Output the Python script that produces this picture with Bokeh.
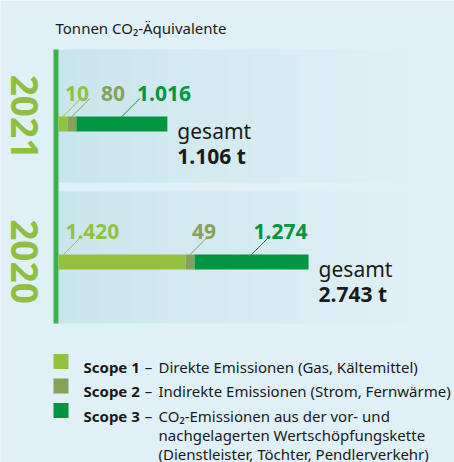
import numpy as np
from bokeh.plotting import figure
from bokeh.models import Range1d, ColumnDataSource
from bokeh.core.properties import value
from bokeh.embed import file_html
from bokeh.resources import INLINE

# ---------------- data ----------------
years = ["2021", "2020"]
scope1 = [10, 1420]
scope2 = [80, 49]
scope3 = [1016, 1274]
scope_names = ["Scope 1", "Scope 2", "Scope 3"]
scope_colors = ["#93c13f", "#87a05b", "#009640"]
legend_lines = [
    ["Direkte Emissionen (Gas, Kältemittel)"],
    ["Indirekte Emissionen (Strom, Fernwärme)"],
    ["CO₂-Emissionen aus der vor- und",
     "nachgelagerten Wertschöpfungskette",
     "(Dienstleister, Töchter, Pendlerverkehr)"],
]
title_text = "Tonnen CO₂-Äquivalente"
total_word = "gesamt"
unit = "t"

# ---------------- layout ----------------
W, H = 454, 462
BG = "#dff0f6"
FONT = value("Noto Sans")
X0 = 58            # pixel where value 0 sits
K = 0.0895         # pixels per tonne
MIN_SHOWN = 100    # smallest drawn segment (t) so tiny values stay visible
bar_centers = [123.5, 261.5]
bands = [(49, 182), (191, 323)]
year_centers = [116.5, 261]


def px2x(px):
    return (px - X0) / K


def fmt(v):
    return f"{v:,}".replace(",", ".")


p = figure(width=W, height=H, x_range=Range1d(px2x(0), px2x(W)), y_range=Range1d(H, 0),
           output_backend="svg", toolbar_location=None, min_border=0,
           x_axis_location=None, y_axis_location=None,
           background_fill_color=BG, border_fill_color=BG, outline_line_color=None)
p.grid.visible = False

# gradient bands
N = 60
c0 = np.array([0xc9, 0xe5, 0xec], float)
c1 = np.array([0xdf, 0xf0, 0xf6], float)
edges = np.linspace(X0, 420, N + 1)
for (bt, bb) in bands:
    lefts, rights, cols = [], [], []
    for i in range(N):
        t = min(1.0, i / (N - 1)) ** 0.9
        c = c0 + (c1 - c0) * t
        cols.append("#%02x%02x%02x" % tuple(int(round(v)) for v in c))
        lefts.append(px2x(edges[i]))
        rights.append(px2x(edges[i + 1] + 0.5))
    p.quad(left=lefts, right=rights, top=[bt] * N, bottom=[bb] * N, fill_color=cols, line_color=None)

# vertical green axis line
p.quad(left=[px2x(53)], right=[px2x(58)], top=[bands[0][0]], bottom=[bands[1][1]],
       fill_color="#3daf4c", line_color=None)

# title
p.text(x=[px2x(55)], y=[27], text=[title_text], text_font=FONT, text_font_size="15px",
       text_color="#1a1a1a", text_baseline="alphabetic", text_align="left")

# year labels (rotated)
p.text(x=[px2x(23.5)] * 2, y=year_centers, text=years, angle=-np.pi / 2, text_font=FONT,
       text_font_size="37px", text_font_style="bold", text_color="#8fbf3f",
       text_align="center", text_baseline="middle")

series = [scope1, scope2, scope3]
BAR_H = 15
DIGIT_W, DOT_W = 12.0, 5.5

for yi, yc in enumerate(bar_centers):
    vals = [s[yi] for s in series]
    shown = [max(v, MIN_SHOWN) for v in vals]
    lefts = list(np.cumsum([0] + shown[:-1]))
    rights = list(np.cumsum(shown))
    p.hbar(y=[yc] * 3, left=lefts, right=rights, height=BAR_H, fill_color=scope_colors, line_color=None)

    bar_top = yc - BAR_H / 2
    prev_right = -1e9
    for si in range(3):
        lpx = X0 + lefts[si] * K
        wpx = shown[si] * K
        if si == 2:
            anchor = lpx + wpx / 2
        else:
            anchor = lpx + min(wpx / 2, 55 * K)
        top_x = anchor + 18
        top_y = bar_top - 18
        lab = fmt(vals[si])
        tw = sum(DOT_W if ch == "." else DIGIT_W for ch in lab)
        left = max(top_x - 16, prev_right + 12)
        prev_right = left + tw
        p.segment(x0=[px2x(anchor)], y0=[bar_top], x1=[px2x(top_x)], y1=[top_y],
                  line_color=scope_colors[si], line_width=1)
        p.text(x=[px2x(left)], y=[top_y - 5], text=[lab], text_font=FONT, text_font_size="21px",
               text_font_style="bold", text_color=scope_colors[si], text_baseline="alphabetic")

    end_px = X0 + rights[-1] * K
    total = sum(vals)
    p.text(x=[px2x(end_px + 10)], y=[yc + 6.5], text=[total_word], text_font=FONT,
           text_font_size="21px", text_color="#1a1a1a", text_baseline="alphabetic")
    p.text(x=[px2x(end_px + 10)], y=[yc + 31.5], text=[f"{fmt(total)} {unit}"], text_font=FONT,
           text_font_size="21px", text_font_style="bold", text_color="#1a1a1a",
           text_baseline="alphabetic")

# legend
LEG_Y = [366, 390.5, 415]
CONT_DY = 19
for i, name in enumerate(scope_names):
    base = LEG_Y[i]
    p.quad(left=[px2x(53)], right=[px2x(68)], top=[base - 12.5], bottom=[base + 2.5],
           fill_color=scope_colors[i], line_color=None)
    p.text(x=[px2x(83)], y=[base], text=[name], text_font=FONT, text_font_size="15px",
           text_font_style="bold", text_color="#1a1a1a", text_baseline="alphabetic")
    p.text(x=[px2x(148)], y=[base], text=["–"], text_font=FONT, text_font_size="15px",
           text_color="#1a1a1a", text_baseline="alphabetic", text_align="center")
    for j, line in enumerate(legend_lines[i]):
        p.text(x=[px2x(158)], y=[base + j * CONT_DY], text=[line], text_font=FONT,
               text_font_size="15px", text_color="#1a1a1a", text_baseline="alphabetic")

open("out.html", "w").write(file_html(p, INLINE))
